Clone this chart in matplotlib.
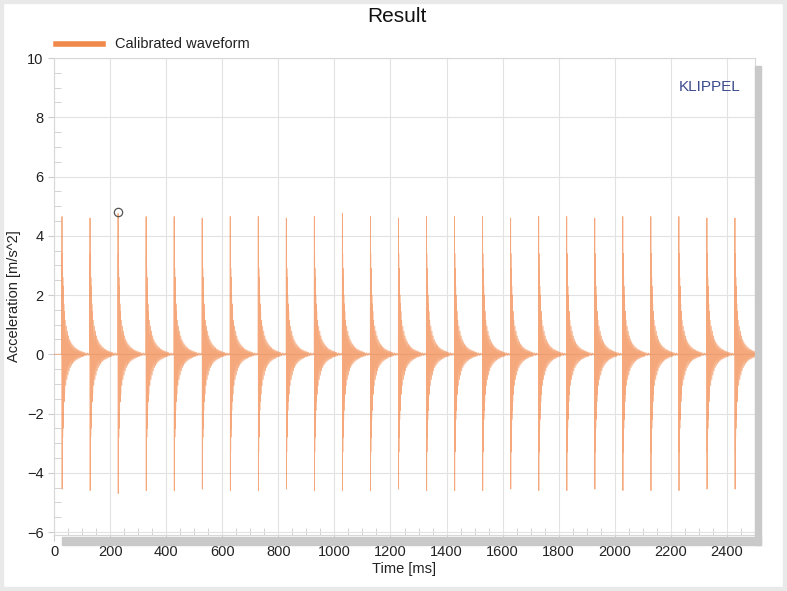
import numpy as np
import matplotlib
matplotlib.use("Agg")
import matplotlib.pyplot as plt
from matplotlib.patches import Rectangle

plt.rcParams['font.family'] = ['Liberation Sans', 'DejaVu Sans']

# pulse onsets [ms] and per-pulse peak values
pulse_ms = [28, 128, 228, 328, 428, 528, 628, 728, 828, 928,
            1028, 1128, 1228, 1328, 1428, 1528, 1628, 1728, 1828, 1928,
            2028, 2128, 2228, 2328, 2428]
pos_peak = [4.65, 4.6, 4.75, 4.65, 4.65, 4.6, 4.65, 4.65, 4.6, 4.65,
            4.75, 4.65, 4.6, 4.65, 4.65, 4.65, 4.6, 4.65, 4.65, 4.6,
            4.65, 4.65, 4.65, 4.6, 4.6]
neg_peak = [-4.55, -4.6, -4.7, -4.6, -4.6, -4.55, -4.6, -4.6, -4.55, -4.6,
            -4.6, -4.6, -4.55, -4.6, -4.6, -4.6, -4.55, -4.6, -4.6, -4.55,
            -4.6, -4.6, -4.6, -4.55, -4.55]

# ringing after each hit: half-cycle extremes (offset from onset in ms, value)
# entries 1 and 2 are replaced by the pulse's own peaks
ring_dt = [0.0, 0.5, 1.0, 1.5, 2.0, 2.5, 3.0, 3.5, 4.0, 4.5, 5.0,
           5.5, 6.0, 7.0, 8.0, 9.0, 10.0, 12.0, 14.0, 16.0, 18.0,
           20.0, 22.0, 24.0, 26.0, 28.0, 30.0, 32.0, 34.0, 36.0, 38.0,
           40.0, 42.0, 44.0, 46.0, 48.0, 50.0, 52.0, 54.0, 56.0, 58.0,
           60.0, 62.0, 64.0, 66.0, 68.0, 70.0, 72.0, 74.0, 76.0, 78.0,
           80.0, 83.0, 86.0, 89.0, 92.0, 95.0, 98.0]
ring_val = [0.0, 1.0, -1.0, 3.4, -3.3, 2.9, -2.8, 2.6, -2.5, 2.3, -2.2,
            2.0, -1.9, 1.7, -1.6, 1.45, -1.35, 1.15, -1.05, 0.95, -0.85,
            0.78, -0.7, 0.62, -0.56, 0.5, -0.45, 0.42, -0.38, 0.35, -0.32,
            0.3, -0.27, 0.25, -0.23, 0.22, -0.2, 0.18, -0.17, 0.16, -0.15,
            0.14, -0.13, 0.12, -0.11, 0.1, -0.09, 0.09, -0.08, 0.07, -0.07,
            0.06, -0.05, 0.05, -0.04, 0.04, -0.03, 0.03]

marker_ms, marker_val = 228, 4.8

t_all = [0.0]
y_all = [0.0]
for t0, pp, nn in zip(pulse_ms, pos_peak, neg_peak):
    for i, (dt, v) in enumerate(zip(ring_dt, ring_val)):
        if i == 1:
            v = pp
        elif i == 2:
            v = nn
        t_all.append(t0 + dt)
        y_all.append(v)
t_all = np.array(t_all)
y_all = np.array(y_all)
keep = t_all <= 2500
t_all, y_all = t_all[keep], y_all[keep]

fig = plt.figure(figsize=(7.87, 5.91), dpi=100)
W, H = 787, 591
ax = fig.add_axes([54 / W, 1 - 535 / H, (755 - 54) / W, (535 - 58) / H])

ax.plot(t_all, y_all, color='#f07a35', lw=0.6, alpha=0.65, zorder=3)
ax.plot([marker_ms], [marker_val], 'o', mfc='none', mec='#555555', ms=6, mew=0.9, zorder=4)

ax.set_xlim(0, 2500)
ax.set_ylim(-6.1, 10)
ax.set_xticks(np.arange(0, 2401, 200))
ax.set_xticks(np.arange(0, 2501, 50), minor=True)
ax.set_yticks(np.arange(-6, 10.1, 2))
ax.set_yticks(np.arange(-6, 10.1, 0.5), minor=True)
ax.grid(True, which='major', color='#e2e2e2', lw=0.8)
ax.tick_params(which='major', length=4, color='#cccccc', labelsize=10.5, labelcolor='#222222')
ax.tick_params(which='minor', direction='in', length=5, color='#cccccc')
for s in ax.spines.values():
    s.set_color('#d8d8d8')
    s.set_linewidth(0.8)

ax.set_xlabel('Time [ms]', fontsize=10.5, color='#222222', labelpad=2)
ax.set_ylabel('Acceleration [m/s^2]', fontsize=10.5, color='#222222', labelpad=4)
ax.text(0.979, 0.94, 'KLIPPEL', transform=ax.transAxes, ha='right', va='center',
        fontsize=11, color='#3b4b8c')

# drop shadow of the plot area
fig.patches.append(Rectangle((755 / W, 1 - 545 / H), 6 / W, (545 - 66) / H,
                             transform=fig.transFigure, color='#c9c9c9', zorder=0))
fig.patches.append(Rectangle((62 / W, 1 - 545 / H), (761 - 62) / W, 8 / H,
                             transform=fig.transFigure, color='#c9c9c9', zorder=0))
# light outer frame
fig.patches.append(Rectangle((0, 0), 1, 1, transform=fig.transFigure, fill=False,
                             edgecolor='#e9e9e9', lw=6, zorder=0))

fig.text(397 / W, 1 - 16 / H, 'Result', ha='center', va='center', fontsize=15, color='#111111')
fig.add_artist(plt.Line2D([56 / W, 103 / W], [1 - 44 / H, 1 - 44 / H], color='#f08a4b', lw=4,
                          transform=fig.transFigure))
fig.text(115 / W, 1 - 44 / H, 'Calibrated waveform', ha='left', va='center', fontsize=10.5,
         color='#222222')

fig.savefig('out.png', dpi=100)
